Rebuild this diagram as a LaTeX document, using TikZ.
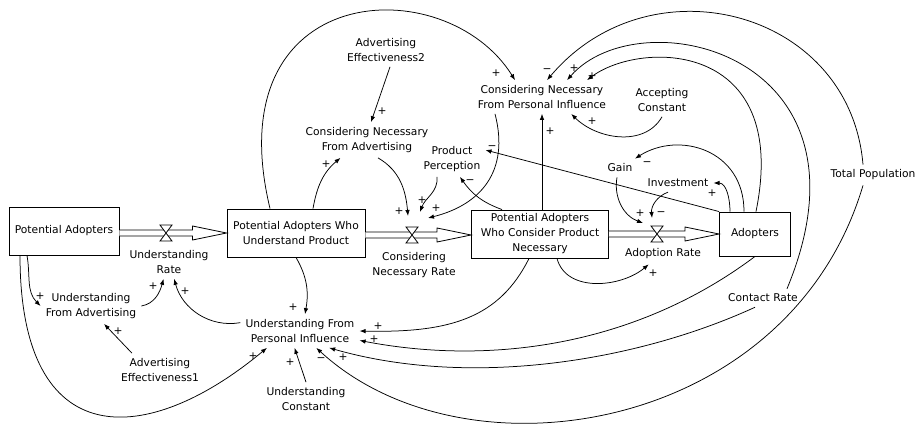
\documentclass[tikz,border=0pt]{standalone}
\usepackage{fontspec}
\setmainfont{DejaVu Sans}
\usepackage{tikz}
\usetikzlibrary{arrows.meta,calc}
\newcommand{\sdfont}{\fontsize{10.7}{15}\selectfont}
\tikzset{
  >={Latex[length=6pt,width=4.5pt]},
  stock/.style   ={rectangle, draw, line width=0.9pt, minimum height=48pt,
                   inner sep=2pt, font=\sdfont, align=center},
  aux/.style     ={inner sep=5pt, font=\sdfont, align=center},
  pol/.style     ={inner sep=0pt, font=\sdfont},
  con/.style     ={->, draw, line width=0.75pt},
  pipe/.style    ={draw, fill=white, line width=0.8pt, line join=miter},
  valvebox/.style={draw, fill=white, line width=0.8pt, line join=miter},
}
% hourglass valve on a flow
\newcommand{\sdvalve}[1]{\draw[valvebox] ($(#1)+(-6,8)$) -- ++(12,0) -- ++(-12,-16) -- ++(12,0) -- cycle;}
% double-line pipe with hollow head, from stock #1 to stock #2 through valve #3
\newcommand{\sdpipe}[3]{%
  \draw[pipe] ($(#1.east |- #3)+(0,3)$) -- ($(#2.west |- #3)+(-34,3)$)
    -- ++(0,4) -- (#2.west |- #3) -- ($(#2.west |- #3)+(-34,-7)$)
    -- ++(0,4) -- ($(#1.east |- #3)+(0,-3)$);
  \sdvalve{#3}}

\begin{document}
\begin{tikzpicture}[x=1pt,y=1pt]
\useasboundingbox (0,0) rectangle (918,-423);
% ---- stocks ---------------------------------------------------------
\node[stock, minimum width=110pt] (pa)     at (64,-231)  {Potential Adopters};
\node[stock, minimum width=138pt] (pawup)  at (296,-233) {Potential Adopters Who\\Understand Product};
\node[stock, minimum width=137pt] (pawcpn) at (540,-234) {Potential Adopters\\Who Consider Product\\Necessary};
\node[stock, minimum width=71pt, minimum height=44pt] (adopt) at (755,-234) {Adopters};

% ---- flows ----------------------------------------------------------
\coordinate (urv)  at (166,-233);
\coordinate (cnrv) at (412,-235);
\coordinate (arv)  at (657,-234);
\sdpipe{pa}{pawup}{urv}
\sdpipe{pawup}{pawcpn}{cnrv}
\sdpipe{pawcpn}{adopt}{arv}
\node[aux] (urate) at (169,-262) {Understanding\\Rate};
\node[aux] (cnr)   at (414,-265) {Considering\\Necessary Rate};
\node[aux] (arate) at (663,-254) {Adoption Rate};

% ---- auxiliaries ----------------------------------------------------
\node[aux] (ufa)   at (91,-306)  {Understanding\\From Advertising};
\node[aux] (ae1)   at (160,-370) {Advertising\\Effectiveness1};
\node[aux] (ufpi)  at (300,-331) {Understanding From\\Personal Influence};
\node[aux] (uc)    at (306,-399) {Understanding\\Constant};
\node[aux] (ae2)   at (386,-50)  {Advertising\\Effectiveness2};
\node[aux] (cnfa)  at (367,-140) {Considering Necessary\\From Advertising};
\node[aux] (pp)    at (452,-159) {Product\\Perception};
\node[aux] (cnfpi) at (542,-97)  {Considering Necessary\\From Personal Influence};
\node[aux] (ac)    at (662,-100) {Accepting\\Constant};
\node[aux] (gain)  at (620,-168) {Gain};
\node[aux] (inv)   at (678,-183) {Investment};
\node[aux] (tp)    at (873,-175) {Total Population};
\node[aux] (cr)    at (763,-298) {Contact Rate};

% ---- links into the understanding side -----------------------------
\draw[con] ([xshift=-37pt]pa.south) to[out=-80,in=135] (ufa.west) node[pol] at (40,-296) {+};
\draw[con] ([xshift=-44pt]pa.south) .. controls +(0,-200) and +(-120,-100) .. (ufpi.-153)
  node[pol] at (253,-356) {+};
\draw[con] (ufa.east) to[out=10,in=-105] (urate.-108) node[pol] at (153,-286) {+};
\draw[con] (ufpi.172) to[out=190,in=-75] (urate.-73) node[pol] at (185,-291) {+};
\draw[con] (ae1.149) -- (ufa.-54) node[pol] at (118,-331) {+};
\draw[con] (pawup.south) to[out=-60,in=80] ([xshift=5pt]ufpi.north) node[pol] at (293,-307) {+};
\draw[con] (uc.north) -- (ufpi.-108) node[pol] at (290,-362) {+};
\draw[con] ([xshift=-11pt]pawcpn.south) .. controls +(-30,-60) and +(90,-2) .. (ufpi.east)
  node[pol] at (378,-326) {+};
\draw[con] (adopt.south) .. controls +(-120,-90) and +(130,-25) .. (ufpi.-9)
  node[pol] at (374,-339) {+};
\draw[con] ([xshift=-8pt]cr.south) .. controls +(-120,-55) and +(140,-40) .. (ufpi.-30)
  node[pol] at (343,-357) {+};
\draw[con] ([xshift=-10pt]tp.south) .. controls +(-73,-247) and +(150,-138) .. (ufpi.-46)
  node[pol] at (321,-360) {−};

% ---- links into the considering side --------------------------------
\draw[con] ([xshift=17pt]pawup.north) to[out=80,in=-140] (cnfa.-146) node[pol] at (326,-164) {+};
\draw[con] ([xshift=-26pt]pawup.north) .. controls +(-55,229) and +(-70,112) .. (cnfpi.148)
  node[pol] at (496,-73) {+};
\draw[con] ([xshift=4pt]ae2.south) -- ([xshift=4pt]cnfa.north) node[pol] at (382,-111) {+};
\draw[con] ([xshift=11pt]cnfa.south) to[out=-30,in=95] ($(cnrv)+(-4,19)$) node[pol] at (399,-211) {+};
\draw[con] ([xshift=-15pt]pp.south) to[out=-85,in=70] ($(cnrv)+(8,23)$) node[pol] at (422,-200) {+};
\draw[con] ([xshift=-47pt]cnfpi.south) .. controls +(15,-58) and +(52,13) .. ($(cnrv)+(16,17)$)
  node[pol] at (436,-208) {+};
\draw[con] ([xshift=-38pt]pawcpn.north) to[out=160,in=-55] (pp.-66) node[pol] at (470,-182) {−};
\draw[con] (adopt.north west) -- (pp.15) node[pol] at (492,-148) {−};
\draw[con] (cnfpi.south |- pawcpn.north) -- (cnfpi.south) node[pol] at (550,-131) {+};
\draw[con] (ac.south) to[out=-120,in=-45] (cnfpi.-30) node[pol] at (592,-121) {+};
\draw[con] ([xshift=-10pt]tp.north) .. controls +(-13,155) and +(103,122) .. ([xshift=5pt]cnfpi.north)
  node[pol] at (547,-71) {−};
\draw[con] ([xshift=24pt]cr.north) .. controls +(98,236) and +(73,83) .. ([xshift=25pt]cnfpi.north)
  node[pol] at (574,-68) {+};
\draw[con] ([xshift=1pt]adopt.north) .. controls +(35,172) and +(53,40) .. ([xshift=45pt]cnfpi.north)
  node[pol] at (592,-76) {+};

% ---- links into the adoption side -----------------------------------
\draw[con] ([xshift=17pt]pawcpn.south) to[out=-75,in=-140] (arate.-144) node[pol] at (653,-273) {+};
\draw[con] ([xshift=-3pt]gain.south) to[out=-100,in=160] ($(arv)+(-14,11)$) node[pol] at (640,-213) {+};
\draw[con] ([xshift=-10pt]inv.south) to[out=200,in=95] ($(arv)+(-5,16)$) node[pol] at (661,-214) {−};
\draw[con] ([xshift=-25pt]adopt.north) to[out=90,in=0] (inv.east) node[pol] at (712,-193) {+};
\draw[con] ([xshift=-11pt]adopt.north) .. controls +(0,62) and +(44,28) .. (gain.32)
  node[pol] at (647,-164) {−};
\end{tikzpicture}
\end{document}
